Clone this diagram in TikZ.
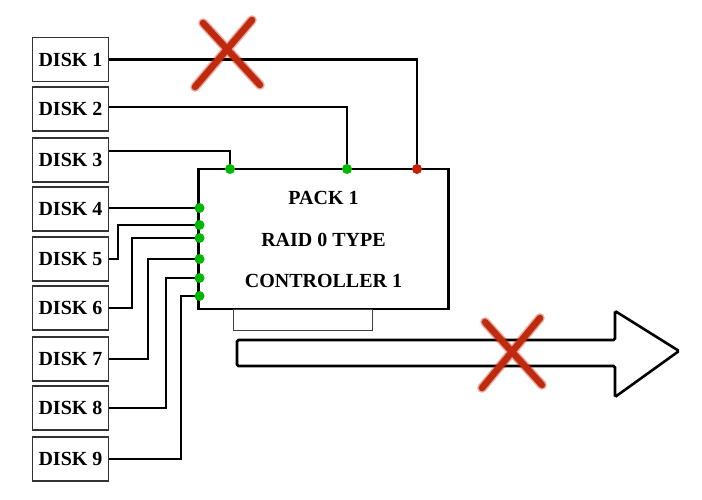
\documentclass[tikz,border=0pt]{standalone}
\usepackage{fontspec}
\setmainfont{Liberation Serif}
\usepackage{xcolor}
\usepackage{tikz}
\usetikzlibrary{arrows.meta}
\usetikzlibrary{calc}
\definecolor{vert}{rgb}{0.0, 0.72, 0.0}
\definecolor{rouge}{rgb}{0.78, 0.13, 0.02}
\definecolor{croix}{rgb}{0.75, 0.16, 0.05}

\begin{document}
\begin{tikzpicture}[x=1pt, y=-1pt,
    disque/.style={draw=black!80, line width=1.2pt, fill=white, minimum width=76pt, minimum height=44pt, inner sep=0pt, font=\fontsize{20}{22}\selectfont\bfseries},
    fil/.style={line width=2.6pt, line join=miter},
    texte/.style={font=\fontsize{20}{22}\selectfont\bfseries},
    trait/.style={croix, line width=6.5pt, line cap=round},
    halo/.style={croix, line width=#1, line cap=round, opacity=0.25}]
    \useasboundingbox (0,0) rectangle (702,500);

    % Disques
    \node[disque] (d1) at (70.5, 59.5) {DISK 1};
    \node[disque] (d2) at (70.5, 109) {DISK 2};
    \node[disque] (d3) at (70.5, 160) {DISK 3};
    \node[disque] (d4) at (70.5, 209) {DISK 4};
    \node[disque] (d5) at (70.5, 259) {DISK 5};
    \node[disque] (d6) at (70.5, 308) {DISK 6};
    \node[disque] (d7) at (70.5, 359) {DISK 7};
    \node[disque] (d8) at (70.5, 408) {DISK 8};
    \node[disque] (d9) at (70.5, 459) {DISK 9};

    % Controleur
    \node[draw, line width=2.8pt, minimum width=250pt, minimum height=140pt, inner sep=0pt] (ctrl) at (323.5, 239) {};
    \node[texte] (t1) at (323.5, 198) {PACK 1};
    \node[texte] (t2) at (323.5, 240) {RAID 0 TYPE};
    \node[texte] (t3) at (323.5, 281) {CONTROLLER 1};
    \draw[line width=0.9pt, black!75] (233, 309) rectangle (372, 330);

    % Points de connexion
    \coordinate (h1) at (417, 169);
    \coordinate (h2) at (347, 169);
    \coordinate (h3) at (230, 169);
    \coordinate (g4) at (199.5, 208);
    \coordinate (g5) at (199.5, 225);
    \coordinate (g6) at (199.5, 238);
    \coordinate (g7) at (199.5, 259);
    \coordinate (g8) at (199.5, 278);
    \coordinate (g9) at (199.5, 296);

    % Fils
    \draw[fil] (d1.east) -| (h1);
    \draw[fil] (d2.east |- 0,107) -| (h2);
    \draw[fil] ([yshift=9pt]d3.east) -| (h3);
    \draw[fil] (d4.east |- g4) -- (g4);
    \draw[fil] (d5.east) -| (118, 225) -- (g5);
    \draw[fil] (d6.east) -| (132, 238) -- (g6);
    \draw[fil] (d7.east) -| (148, 259) -- (g7);
    \draw[fil] (d8.east) -| (166, 278) -- (g8);
    \draw[fil] (d9.east) -| (181, 296) -- (g9);

    \fill[rouge] (h1) circle (5);
    \fill[vert] (h2) circle (5);
    \fill[vert] (h3) circle (5);
    \fill[vert] (g4) circle (5);
    \fill[vert] (g5) circle (5);
    \fill[vert] (g6) circle (5);
    \fill[vert] (g7) circle (5);
    \fill[vert] (g8) circle (5);
    \fill[vert] (g9) circle (5);

    % Fleche de sortie
    \draw[line width=2.6pt, rounded corners=1.5pt, line join=miter]
        (237, 340) -- (615, 340) -- (615, 311) -- (679, 351) -- (615, 397) -- (615, 366) -- (237, 366) -- cycle;

    % Croix rouges
    \draw[halo=10pt] (203, 23) -- (260, 85) (252, 20) -- (195, 87);
    \draw[halo=8.5pt] (203, 23) -- (260, 85) (252, 20) -- (195, 87);
    \draw[trait] (203, 23) -- (260, 85) (252, 20) -- (195, 87);
    \draw[halo=10pt] (485, 322) -- (542, 385) (540, 318) -- (482, 388);
    \draw[halo=8.5pt] (485, 322) -- (542, 385) (540, 318) -- (482, 388);
    \draw[trait] (485, 322) -- (542, 385) (540, 318) -- (482, 388);
\end{tikzpicture}
\end{document}
